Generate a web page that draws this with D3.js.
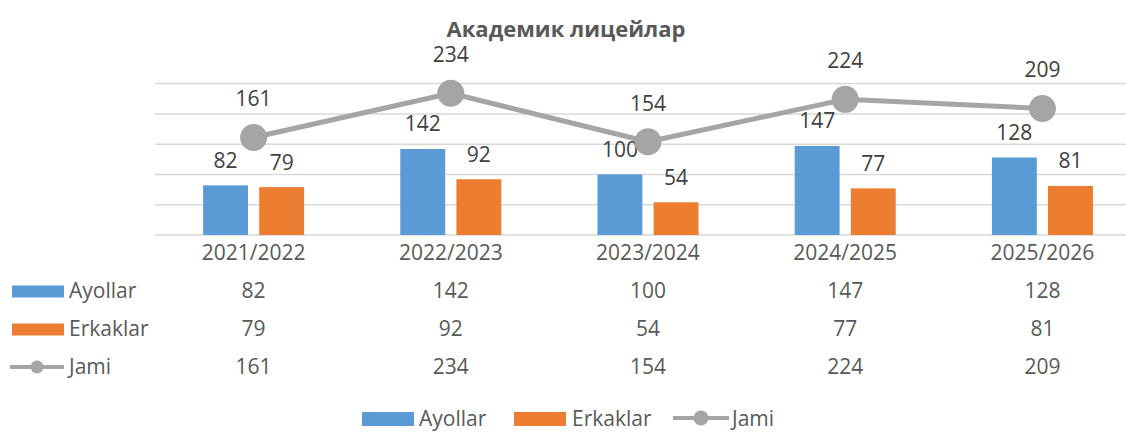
<!DOCTYPE html>
<html>
<head>
<meta charset="utf-8">
<script src="https://cdn.jsdelivr.net/npm/d3@7"></script>
<style>
  body { margin: 0; background: #fff; }
  text { font-family: "Open Sans", sans-serif; }
</style>
</head>
<body>
<svg id="chart" width="1126" height="432"></svg>
<script>
// data
const title = "Академик лицейлар";
const years = ["2021/2022", "2022/2023", "2023/2024", "2024/2025", "2025/2026"];
const ayollar = [82, 142, 100, 147, 128];
const erkaklar = [79, 92, 54, 77, 81];
const jami = [161, 234, 154, 224, 209];
const yTicks = [0, 50, 100, 150, 200, 250];

const colors = { Ayollar: "#5B9BD5", Erkaklar: "#ED7D31", Jami: "#A5A5A5" };
const barSeries = [
  { name: "Ayollar", values: ayollar },
  { name: "Erkaklar", values: erkaklar }
];

const svg = d3.select("#chart");
svg.append("rect").attr("width", 1126).attr("height", 432).attr("fill", "#fff");

// scales
const x = d3.scaleBand().domain(years).range([155, 1141]);
const x1 = d3.scaleBand().domain(barSeries.map(d => d.name)).range([-50.5, 50.5]).paddingInner(0.2);
const y = d3.scaleLinear().domain([0, 250]).range([235, 83.6]);
const cx = d => x(d) + x.bandwidth() / 2;

// title
svg.append("text")
  .attr("x", 566).attr("y", 37)
  .attr("text-anchor", "middle")
  .attr("font-size", 22).attr("font-weight", "bold")
  .attr("fill", "#595959")
  .text(title);

// gridlines (hidden y axis)
svg.append("g").selectAll("line").data(yTicks).join("line")
  .attr("x1", x.range()[0]).attr("x2", x.range()[1])
  .attr("y1", d => y(d)).attr("y2", d => y(d))
  .attr("stroke", "#D9D9D9").attr("stroke-width", 1.5);

// bars
const groups = svg.append("g").selectAll("g").data(barSeries).join("g")
  .attr("fill", d => colors[d.name]);
groups.selectAll("rect").data(s => s.values.map((v, i) => ({ s: s.name, v, cat: years[i] }))).join("rect")
  .attr("x", d => cx(d.cat) + x1(d.s))
  .attr("width", x1.bandwidth())
  .attr("y", d => y(d.v))
  .attr("height", d => y(0) - y(d.v));

// bar labels
groups.selectAll("text").data(s => s.values.map((v, i) => ({ s: s.name, v, cat: years[i] }))).join("text")
  .attr("x", d => cx(d.cat) + x1(d.s) + x1.bandwidth() / 2)
  .attr("y", d => y(d.v) - 25)
  .attr("dy", "0.35em")
  .attr("text-anchor", "middle")
  .attr("font-size", 21).attr("fill", "#404040")
  .text(d => d.v);

// total line
const line = d3.line().x((d, i) => cx(years[i])).y(d => y(d));
svg.append("path").datum(jami)
  .attr("d", line)
  .attr("fill", "none").attr("stroke", colors.Jami)
  .attr("stroke-width", 5).attr("stroke-linejoin", "round");
svg.append("g").selectAll("circle").data(jami).join("circle")
  .attr("cx", (d, i) => cx(years[i])).attr("cy", d => y(d))
  .attr("r", 13.5).attr("fill", colors.Jami);
svg.append("g").selectAll("text").data(jami).join("text")
  .attr("x", (d, i) => cx(years[i])).attr("y", d => y(d) - 38.5)
  .attr("dy", "0.35em").attr("text-anchor", "middle")
  .attr("font-size", 21).attr("fill", "#404040")
  .text(d => d);

// category labels
svg.append("g").selectAll("text").data(years).join("text")
  .attr("x", d => cx(d)).attr("y", 253)
  .attr("dy", "0.35em").attr("text-anchor", "middle")
  .attr("font-size", 21).attr("fill", "#595959")
  .text(d => d);

// legend key helper
function legendKey(g, name, kx, ky, w, h, r) {
  if (name === "Jami") {
    g.append("line").attr("x1", kx).attr("x2", kx + w).attr("y1", ky).attr("y2", ky)
      .attr("stroke", colors.Jami).attr("stroke-width", 4);
    g.append("circle").attr("cx", kx + w / 2).attr("cy", ky).attr("r", r).attr("fill", colors.Jami);
  } else {
    g.append("rect").attr("x", kx).attr("y", ky - h / 2).attr("width", w).attr("height", h)
      .attr("fill", colors[name]);
  }
}

// data table
const rows = [
  { name: "Ayollar", values: ayollar, cy: 291 },
  { name: "Erkaklar", values: erkaklar, cy: 329 },
  { name: "Jami", values: jami, cy: 367 }
];
const table = svg.append("g");
rows.forEach(r => {
  legendKey(table, r.name, r.name === "Jami" ? 10 : 12, r.name === "Jami" ? r.cy : r.cy + 0.5, r.name === "Jami" ? 54 : 52, 12, 6.5);
  table.append("text").attr("x", 69).attr("y", r.cy).attr("dy", "0.35em")
    .attr("font-size", 21).attr("fill", "#595959").text(r.name);
  table.selectAll(null).data(r.values).join("text")
    .attr("x", (d, i) => cx(years[i])).attr("y", r.cy).attr("dy", "0.35em")
    .attr("text-anchor", "middle").attr("font-size", 21).attr("fill", "#595959")
    .text(d => d);
});

// bottom legend (nudged up slightly so the text is not clipped)
const legendY = 419;
const legendItems = [
  { name: "Ayollar", kx: 362, tx: 419 },
  { name: "Erkaklar", kx: 514, tx: 572 },
  { name: "Jami", kx: 673, tx: 732 }
];
const legend = svg.append("g");
legendItems.forEach(l => {
  legendKey(legend, l.name, l.kx, l.name === "Jami" ? legendY - 1 : legendY, l.name === "Jami" ? 56 : 52, 14, 7.5);
  legend.append("text").attr("x", l.tx).attr("y", legendY).attr("dy", "0.35em")
    .attr("font-size", 21).attr("fill", "#595959").text(l.name);
});
</script>
</body>
</html>
